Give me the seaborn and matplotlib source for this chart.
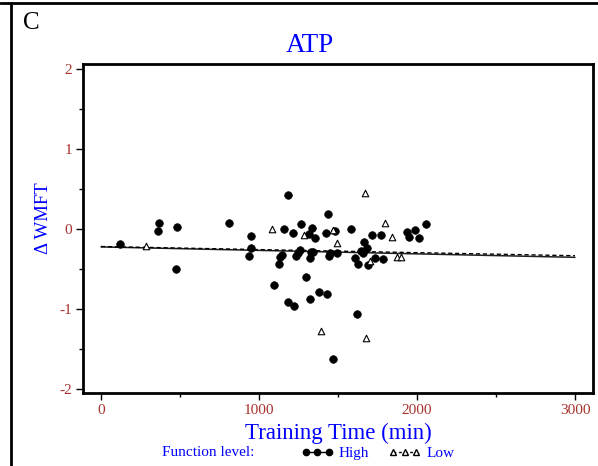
import matplotlib
matplotlib.use("Agg")
import matplotlib.pyplot as plt
import seaborn as sns
import pandas as pd
import numpy as np
from matplotlib.lines import Line2D
from matplotlib.ticker import MultipleLocator

# ---- data ----
high_x = [120, 367, 363, 481, 473, 812, 949, 949, 939, 1186, 1160, 1264, 1337, 1215,
          1316, 1354, 1437, 1422, 1481, 1584, 1665, 1682, 1643, 1608, 1629, 1688,
          1259, 1247, 1234, 1143, 1133, 1125, 1329, 1344, 1325, 1449, 1445, 1491,
          1297, 1715, 1774, 1937, 1990, 2059, 1947, 2015, 1734, 1783, 1660, 1097,
          1382, 1428, 1323, 1186, 1224, 1620, 1468]
high_y = [-0.18, 0.08, -0.02, 0.03, -0.49, 0.08, -0.08, -0.23, -0.33, 0.43, 0.00, 0.06,
          0.02, -0.05, -0.06, -0.11, 0.19, -0.04, -0.02, 0.01, -0.16, -0.23, -0.27,
          -0.36, -0.43, -0.45, -0.26, -0.29, -0.33, -0.32, -0.35, -0.43, -0.28, -0.28,
          -0.36, -0.29, -0.33, -0.29, -0.60, -0.07, -0.07, -0.03, -0.01, 0.06, -0.10,
          -0.11, -0.36, -0.37, -0.30, -0.70, -0.78, -0.81, -0.87, -0.91, -0.96, -1.06,
          -1.62]
low_x = [283, 1084, 1285, 1468, 1494, 1668, 1800, 1844, 1876, 1901, 1703, 1392, 1679]
low_y = [-0.21, 0.00, -0.07, -0.01, -0.17, 0.45, 0.08, -0.10, -0.35, -0.35, -0.40,
         -1.27, -1.36]

fit_x = [0, 3000]
high_fit = [-0.22, -0.35]
low_fit = [-0.215, -0.33]

groups = ["High", "Low"]
x_ticks = [0, 1000, 2000, 3000]
y_ticks = [-2, -1, 0, 1, 2]

title = "ATP"
xlabel = "Training Time (min)"
ylabel = "\u0394 WMFT"
panel = "C"
legend_title = "Function level:"

# ---- styling ----
sns.set_style("white")
plt.rcParams["font.family"] = ["Liberation Serif", "DejaVu Serif"]
plt.rcParams["axes.unicode_minus"] = False
BLUE = "#0000FF"
RED = "#A8322D"

pts = pd.DataFrame({
    "x": high_x + low_x,
    "y": high_y + low_y,
    "group": ["High"] * len(high_x) + ["Low"] * len(low_x),
})
fits = pd.DataFrame({
    "x": fit_x + fit_x,
    "y": high_fit + low_fit,
    "group": ["High"] * 2 + ["Low"] * 2,
})

fig = plt.figure(figsize=(5.98, 4.66), dpi=100)
ax = fig.add_axes([83 / 598, 1 - 392.7 / 466, (593 - 83) / 598, (392.7 - 64.3) / 466])

sns.lineplot(data=fits[fits.group == "High"], x="x", y="y", ax=ax, color="#202020",
             lw=1.1, legend=False)
sns.lineplot(data=fits[fits.group == "Low"], x="x", y="y", ax=ax, color="black",
             lw=1.0, legend=False, dashes=False, linestyle=(0, (3, 2)))

sns.scatterplot(data=pts[pts.group == "High"], x="x", y="y", ax=ax, marker="o",
                color="black", s=30, edgecolor="black", linewidth=0.5, legend=False,
                zorder=3)
sns.scatterplot(data=pts[pts.group == "Low"], x="x", y="y", ax=ax, marker="^",
                facecolor="white", s=22, edgecolor="black", linewidth=0.8, legend=False,
                zorder=3)

ax.set_xlim(-114, 3114)
ax.set_ylim(-2.04, 2.06)
ax.set_xticks(x_ticks)
ax.set_yticks(y_ticks)
ax.xaxis.set_minor_locator(MultipleLocator(500))
ax.yaxis.set_minor_locator(MultipleLocator(0.5))
ax.tick_params(axis="both", which="major", direction="out", length=5, width=1,
               color="black", labelsize=11, labelcolor=RED, pad=3,
               bottom=True, left=True)
ax.tick_params(axis="both", which="minor", direction="out", length=3, width=1,
               color="black", bottom=True, left=True)
for s in ax.spines.values():
    s.set_linewidth(2)
    s.set_color("black")

ax.set_xlabel(xlabel, color=BLUE, fontsize=16.5, labelpad=4)
ax.set_ylabel(ylabel, color=BLUE, fontsize=13.5, va="center")
ax.yaxis.set_label_coords((43 - 83) / 510, (392.7 - 218) / 328.4)

fig.text(310 / 598, 1 - 52 / 466, title, color=BLUE, fontsize=19.5, ha="center",
         va="baseline")

fig.text(23 / 598, 1 - 29 / 466, panel, fontsize=18, color="black", ha="left",
         va="baseline")

# outer panel border lines (top and left)
fig.add_artist(Line2D([0, 1], [1 - 3.3 / 466] * 2, color="black", lw=2,
                      transform=fig.transFigure))
fig.add_artist(Line2D([11 / 598] * 2, [0, 1 - 3.3 / 466], color="black", lw=2,
                      transform=fig.transFigure))

# legend
handles = [
    Line2D([], [], color="black", lw=1, marker="o", markersize=4.5, linestyle="-"),
    Line2D([], [], color="black", lw=1, marker="^", markersize=4.5,
           markerfacecolor="white", linestyle=(0, (2, 2))),
]
fig.text(162 / 598, 1 - 453 / 466, legend_title, color=BLUE, fontsize=11,
         ha="left", va="center")
leg = fig.legend(handles, groups, loc="center left",
                 bbox_to_anchor=(301 / 598, 1 - 453 / 466), ncol=2, numpoints=3,
                 frameon=False, fontsize=11, handlelength=2.1, handletextpad=0.35,
                 columnspacing=1.3, borderaxespad=0, borderpad=0)
for t in leg.get_texts():
    t.set_color(BLUE)

fig.savefig("out.png", dpi=100)
